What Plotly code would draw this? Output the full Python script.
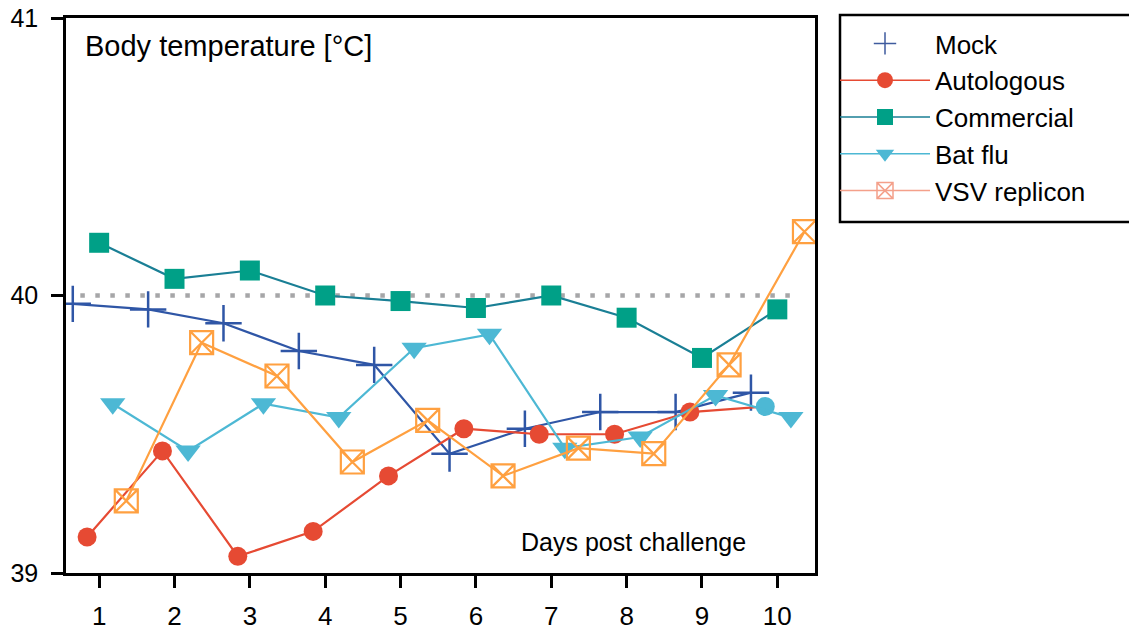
import plotly.graph_objects as go

days = [1, 2, 3, 4, 5, 6, 7, 8, 9, 10]
tick_labels = ["1", "2", "3", "4", "5", "6", "7", "8", "9", "10"]

mock = [39.97, 39.95, 39.90, 39.80, 39.75, 39.43, 39.52, 39.58, 39.58, 39.65]
autologous = [39.13, 39.44, 39.06, 39.15, 39.35, 39.52, 39.50, 39.50, 39.58, 39.60]
commercial = [40.19, 40.06, 40.09, 40.00, 39.98, 39.955, 40.00, 39.92, 39.775, 39.95]
bat_flu = [39.61, 39.44, 39.61, 39.56, 39.81, 39.86, 39.45, 39.49, 39.64, 39.56]
vsv = [39.26, 39.83, 39.71, 39.40, 39.55, 39.35, 39.45, 39.43, 39.75, 40.23]

names = ["Mock", "Autologous", "Commercial", "Bat flu", "VSV replicon"]
offsets = [-0.35, -0.16, 0.0, 0.18, 0.36]
baseline = 40.0

FONT = "Liberation Sans, Arial"

C_MOCK = "#2f56a6"
C_AUTO = "#e64a33"
C_COMM_M = "#00a087"
C_COMM_L = "#1a7f95"
C_BAT = "#4db8d4"
C_VSV = "#ffa040"
C_VSV_LEG = "#f4a08a"

L, PW, T, PH = 66, 749, 18, 555
W, H = 1129, 634

def shift(off):
    return [d + off for d in days]

def px_x(px):  # window px -> paper x
    return (px - L) / PW

def px_y(py):  # window px -> paper y
    return 1 - (py - T) / PH

fig = go.Figure()

# baseline dotted line
fig.add_trace(go.Scatter(
    x=[0.75, 10.28], y=[baseline, baseline], mode="lines",
    line=dict(color="#a6a6a8", width=4.5, dash="4.5px,10.5px"),
    showlegend=False, hoverinfo="skip"))

series = [
    (mock, dict(symbol="cross-thin", size=26, line=dict(color=C_MOCK, width=2.5), color=C_MOCK), C_MOCK),
    (autologous, dict(symbol="circle", size=19, color=[C_AUTO] * 9 + [C_BAT]), C_AUTO),
    (commercial, dict(symbol="square", size=20, color=C_COMM_M), C_COMM_L),
    (bat_flu, dict(symbol="triangle-down", size=22, color=C_BAT), C_BAT),
    (vsv, dict(symbol="square-x-open", size=23, color=C_VSV, line=dict(color=C_VSV, width=2.2)), C_VSV),
]

for (vals, mk, lc), off, nm in zip(series, offsets, names):
    fig.add_trace(go.Scatter(
        x=shift(off), y=vals, mode="lines+markers", name=nm,
        line=dict(color=lc, width=2.2), marker=mk, showlegend=False))

# legend entries
leg = [
    dict(symbol="cross-thin", size=28, color="#3f5b9e", line=dict(color="#3f5b9e", width=1.5)),
    dict(symbol="circle", size=20, color=C_AUTO),
    dict(symbol="square", size=20, color=C_COMM_M),
    dict(symbol="triangle-down", size=21, color=C_BAT),
    dict(symbol="square-x-open", size=19, color=C_VSV_LEG, line=dict(color=C_VSV_LEG, width=1.5)),
]
leg_lines = ["rgba(0,0,0,0)", C_AUTO, C_COMM_L, C_BAT, C_VSV_LEG]
for nm, mk, lc in zip(names, leg, leg_lines):
    fig.add_trace(go.Scatter(x=[None], y=[None], mode="lines+markers", name=nm,
                             marker=mk, line=dict(color=lc, width=1.5)))

axis_common = dict(showline=True, linecolor="black", linewidth=2.5, mirror=True,
                   ticks="outside", ticklen=12, tickwidth=2.5, tickcolor="black",
                   showgrid=False, zeroline=False, automargin=False,
                   ticklabeloverflow="allow")

fig.update_xaxes(range=[0.56, 10.5], tickvals=days, ticktext=tick_labels,
                 ticklabelstandoff=6, tickfont=dict(size=26, color="black", family=FONT),
                 **axis_common)
fig.update_yaxes(range=[39, 41], tickvals=[39, 40, 41], ticktext=["39", "40", "41"],
                 ticklabelstandoff=8, tickfont=dict(size=25, color="black", family=FONT),
                 **axis_common)

fig.add_annotation(text="Body temperature [°C]", xref="paper", yref="paper",
                   x=px_x(83), y=px_y(28), xanchor="left", yanchor="top", showarrow=False,
                   font=dict(size=29, color="black", family=FONT))
fig.add_annotation(text="Days post challenge", xref="paper", yref="paper",
                   x=px_x(748), y=px_y(558), xanchor="right", yanchor="bottom", showarrow=False,
                   font=dict(size=25, color="black", family=FONT))

# legend frame
fig.add_shape(type="rect", xref="paper", yref="paper",
              x0=px_x(840), x1=px_x(1145),
              y0=px_y(222), y1=px_y(15),
              line=dict(color="black", width=2.5), fillcolor="rgba(0,0,0,0)")

fig.update_layout(
    width=W, height=H,
    margin=dict(l=L, r=W - L - PW, t=T, b=H - T - PH),
    plot_bgcolor="white", paper_bgcolor="white",
    font=dict(family=FONT, color="black"),
    legend=dict(x=px_x(835), y=px_y(20), xanchor="left", yanchor="top",
                borderwidth=0, bgcolor="rgba(0,0,0,0)",
                font=dict(size=26, color="black", family=FONT),
                itemwidth=90, tracegroupgap=0),
)

# remove the browser's default 8px body margin so the figure fills the window exactly
fig.write_html("out.html", config={"displayModeBar": False},
               post_script="document.body.style.margin='0px';")
